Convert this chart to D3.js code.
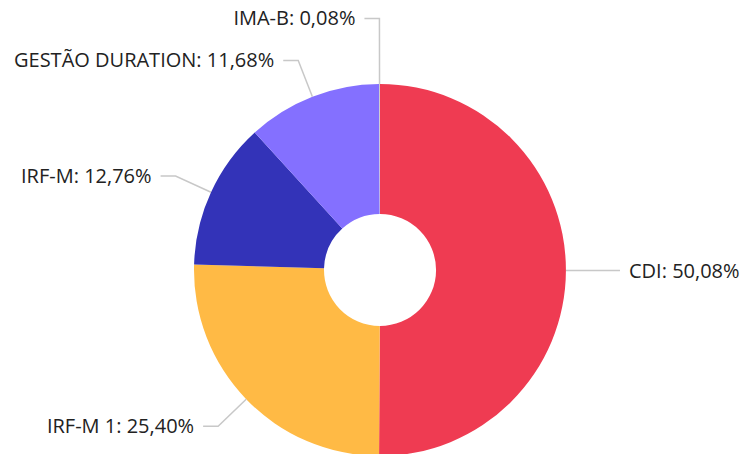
<!DOCTYPE html>
<html>
  <head>
    <meta charset="utf-8">
    <title>Carteira</title>
    <script src="https://d3js.org/d3.v7.min.js"></script>
    <style>
      body { margin: 0; background: #fff; }
      text { font-family: "Open Sans", sans-serif; font-size: 20px; fill: #222; }
    </style>
  </head>
  <body>
    <div id="chart"></div>
    <script>
      var names = ["CDI", "IRF-M 1", "IRF-M", "GESTÃO DURATION", "IMA-B"];
      var shares = [50.08, 25.40, 12.76, 11.68, 0.08];
      var colors = ["#ef3b52", "#ffba45", "#3333b8", "#8470ff", "#c8c8c8"];

      var width = 744, height = 454;
      var cx = 380, cy = 270;
      var outerR = 186, innerR = 56;
      var len1 = 39, len2 = 15, minGap = 42;

      var svg = d3.select("#chart").append("svg")
        .attr("width", width)
        .attr("height", height);

      var g = svg.append("g").attr("transform", "translate(" + cx + "," + cy + ")");

      var pie = d3.pie().sort(null).value(function(d) { return d; });
      var arcs = pie(shares);
      var arc = d3.arc().innerRadius(innerR).outerRadius(outerR);

      g.selectAll("path.slice")
        .data(arcs)
        .enter().append("path")
        .attr("class", "slice")
        .attr("d", arc)
        .attr("fill", function(d, i) { return colors[i]; });

      // label anchor points
      var labels = arcs.map(function(d, i) {
        var a = (d.startAngle + d.endAngle) / 2;
        var p0 = [Math.sin(a) * outerR, -Math.cos(a) * outerR];
        var p1 = [Math.sin(a) * (outerR + len1), -Math.cos(a) * (outerR + len1)];
        var right = Math.sin(a) > 0;
        return { i: i, p0: p0, p1: p1, right: right };
      });

      // simple overlap avoidance per side: push labels up
      [true, false].forEach(function(side) {
        var s = labels.filter(function(l) { return l.right === side; })
          .sort(function(a, b) { return b.p1[1] - a.p1[1]; });
        for (var k = 1; k < s.length; k++) {
          if (s[k - 1].p1[1] - s[k].p1[1] < minGap) {
            s[k].p1 = [s[k].p1[0], s[k - 1].p1[1] - minGap];
          }
        }
      });

      labels.forEach(function(l) {
        var dir = l.right ? 1 : -1;
        var p2 = [l.p1[0] + dir * len2, l.p1[1]];
        g.append("polyline")
          .attr("points", [l.p0, l.p1, p2].map(function(p) { return p.join(","); }).join(" "))
          .attr("fill", "none")
          .attr("stroke", "#c8c8c8")
          .attr("stroke-width", 1.5);
        g.append("text")
          .attr("x", p2[0] + dir * 9)
          .attr("y", p2[1])
          .attr("dy", "0.35em")
          .style("text-anchor", l.right ? "start" : "end")
          .text(names[l.i] + ": " + shares[l.i].toFixed(2).replace(".", ",") + "%");
      });
    </script>
  </body>
</html>
